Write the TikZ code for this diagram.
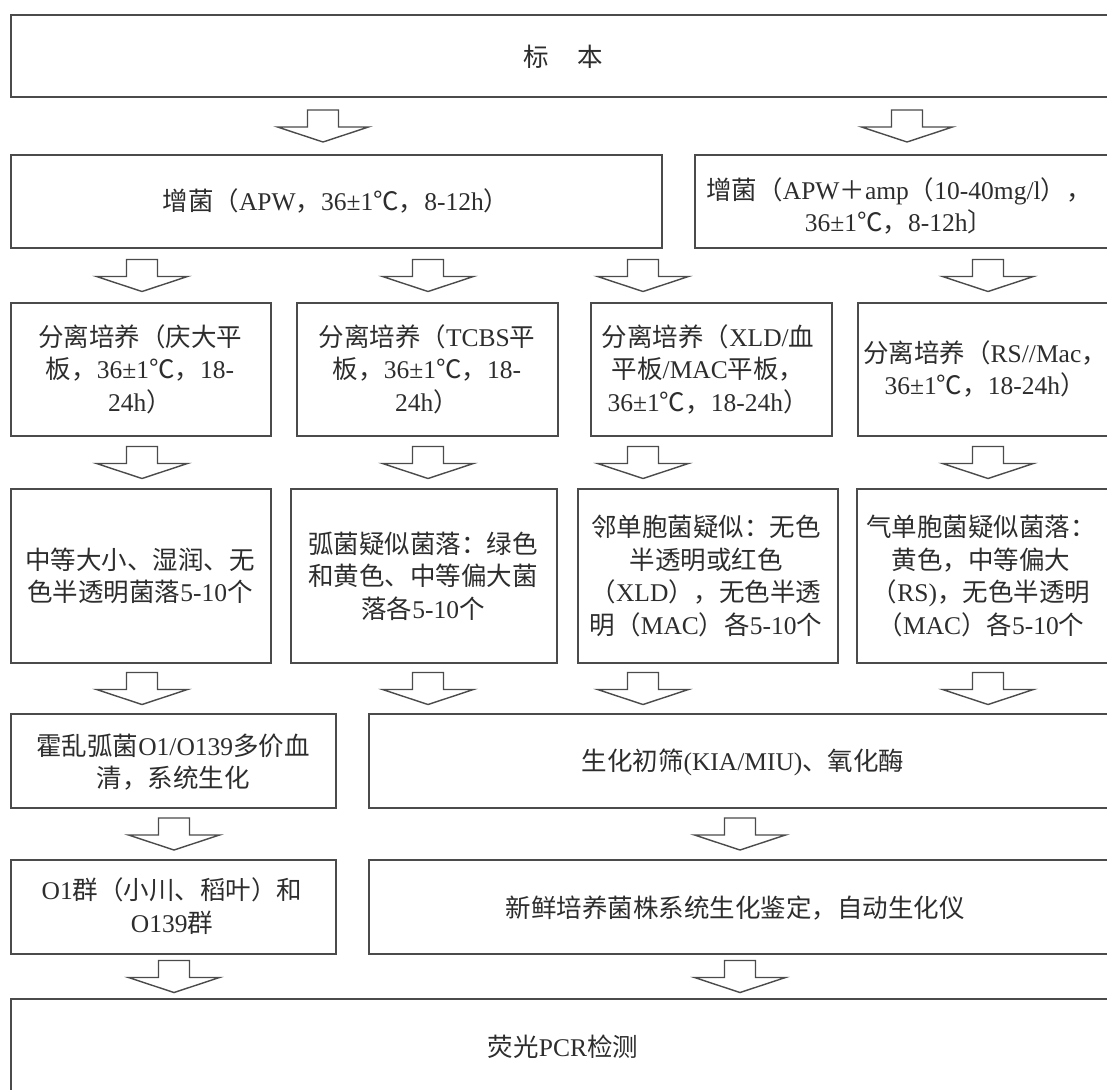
\documentclass[tikz,border=0pt]{standalone}
\usepackage{fontspec}
\setmainfont{Liberation Serif}
\newfontfamily\cjkf{Noto Sans CJK SC}
\usetikzlibrary{calc}
\XeTeXinterchartokenstate=1
\newXeTeXintercharclass\cjkcls
\makeatletter
\count@="3000
\loop\ifnum\count@<"A000
  \XeTeXcharclass\count@=\cjkcls
  \advance\count@ by 1
\repeat
\count@="FF00
\loop\ifnum\count@<"FFF0
  \XeTeXcharclass\count@=\cjkcls
  \advance\count@ by 1
\repeat
\makeatother
\XeTeXcharclass"2103=\cjkcls
\XeTeXinterchartoks 0 \cjkcls = {\cjkf}
\XeTeXinterchartoks 4095 \cjkcls = {\cjkf}
\XeTeXinterchartoks \cjkcls 0 = {\rmfamily}
\XeTeXinterchartoks 4095 0 = {\rmfamily}
\definecolor{linec}{RGB}{75,75,75}
\definecolor{txtc}{RGB}{45,45,45}
\tikzset{
  box/.style={draw=linec, line width=2pt, inner sep=0pt, outer sep=0pt, fill=white},
  blk/.style={draw=linec, line width=1.4pt, line join=miter, fill=white},
  txt/.style={align=center, inner sep=0pt, text=txtc, font=\fontsize{25.5pt}{32.5pt}\selectfont}
}
% box: name, x1, y1, x2, y2 (pixel coordinates)
\newcommand\bx[5]{\node[box, minimum width={#4-#2}, minimum height={#5-#3}] (#1) at ({(#2+#4)/2},{(#3+#5)/2}) {};}
% block arrow: x, from node, to node
\newcommand\barr[3]{\draw[blk] let \p1=(#2.south), \p2=(#3.north), \n1={(\y1+\y2)/2} in
  ({#1pt-15.5pt},{\n1+16pt}) -- ({#1pt-15.5pt},{\n1-1pt}) -- ({#1pt-45.5pt},{\n1-1pt}) --
  ({#1pt},{\n1-16pt}) -- ({#1pt+45.5pt},{\n1-1pt}) -- ({#1pt+15.5pt},{\n1-1pt}) --
  ({#1pt+15.5pt},{\n1+16pt}) -- cycle;}
\begin{document}
\begin{tikzpicture}[x=1pt,y=-1pt]
\useasboundingbox (0,0) rectangle (1107,1089);
\fill[white] (0,0) rectangle (1107,1089);
\clip (0,0) rectangle (1107,1089);
% boxes
\bx{top}{11}{15}{1115}{97}
\bx{r2l}{11}{155}{662}{248}
\bx{r2r}{695}{155}{1115}{248}
\bx{r3a}{11}{303}{271}{436}
\bx{r3b}{297}{303}{558}{436}
\bx{r3c}{591}{303}{832}{436}
\bx{r3d}{858}{303}{1115}{436}
\bx{r4a}{11}{489}{271}{663}
\bx{r4b}{291}{489}{557}{663}
\bx{r4c}{578}{489}{838}{663}
\bx{r4d}{857}{489}{1115}{663}
\bx{r5l}{11}{714}{336}{808}
\bx{r5r}{369}{714}{1115}{808}
\bx{r6l}{11}{860}{336}{954}
\bx{r6r}{369}{860}{1115}{954}
\bx{fin}{11}{999}{1115}{1095}
% texts
\node[txt] (t-top) at (563,57) {标\hspace{1.1em}本};
\node[txt] (t-r2l) at (336,201) {增菌（APW，36±1℃，8-12h）};
\node[txt] (t-r2r) at (899,206) {增菌（APW＋amp（10-40mg/l），\\36±1℃，8-12h〕};
\node[txt] (t-r3a) at (140,369) {分离培养（庆大平\\板，36±1℃，18-\\24h）};
\node[txt] (t-r3b) at (427,369) {分离培养（TCBS平\\板，36±1℃，18-\\24h）};
\node[txt] (t-r3c) at (708,369) {分离培养（XLD/血\\平板/MAC平板，\\36±1℃，18-24h）};
\node[txt] (t-r3d) at (985,369) {分离培养（RS//Mac，\\36±1℃，18-24h）};
\node[txt] (t-r4a) at (140,576) {中等大小、湿润、无\\色半透明菌落5-10个};
\node[txt] (t-r4b) at (423,576) {弧菌疑似菌落：绿色\\和黄色、中等偏大菌\\落各5-10个};
\node[txt] (t-r4c) at (706,576) {邻单胞菌疑似：无色\\半透明或红色\\（XLD），无色半透\\明（MAC）各5-10个};
\node[txt] (t-r4d) at (981,576) {气单胞菌疑似菌落：\\黄色，中等偏大\\（RS)，无色半透明\\（MAC）各5-10个};
\node[txt] (t-r5l) at (173,762) {霍乱弧菌O1/O139多价血\\清，系统生化};
\node[txt] (t-r5r) at (743,762) {生化初筛(KIA/MIU)、氧化酶};
\node[txt] (t-r6l) at (172,906) {O1群（小川、稻叶）和\\O139群};
\node[txt] (t-r6r) at (735,908) {新鲜培养菌株系统生化鉴定，自动生化仪};
\node[txt] (t-fin) at (563,1047) {荧光PCR检测};
% block arrows
\barr{323}{top}{r2l}
\barr{907}{top}{r2r}
\barr{142}{r2l}{r3a}
\barr{428}{r2l}{r3b}
\barr{643}{r2l}{r3c}
\barr{988}{r2r}{r3d}
\barr{142}{r3a}{r4a}
\barr{428}{r3b}{r4b}
\barr{643}{r3c}{r4c}
\barr{988}{r3d}{r4d}
\barr{142}{r4a}{r5l}
\barr{428}{r4b}{r5r}
\barr{643}{r4c}{r5r}
\barr{988}{r4d}{r5r}
\barr{174}{r5l}{r6l}
\barr{740}{r5r}{r6r}
\barr{174}{r6l}{fin}
\barr{740}{r6r}{fin}
\end{tikzpicture}
\end{document}
